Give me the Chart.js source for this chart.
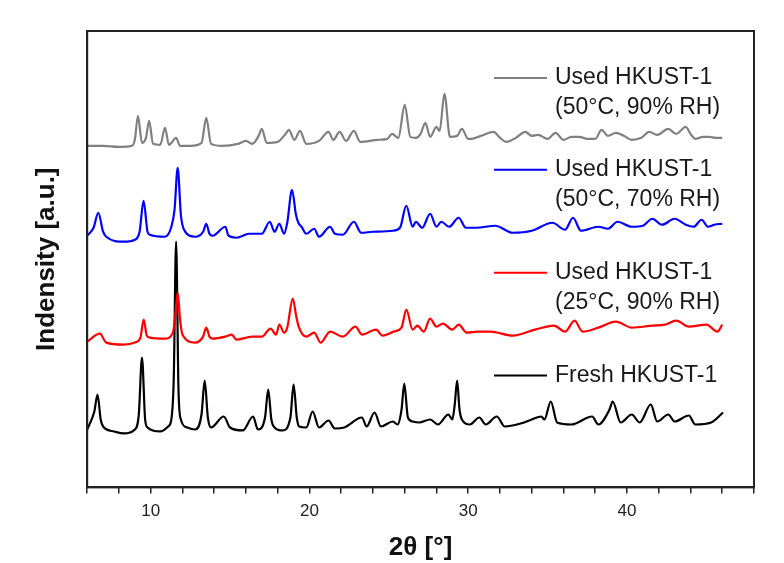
<!DOCTYPE html>
<html>
<head>
<meta charset="utf-8">
<script src="https://cdn.jsdelivr.net/npm/chart.js@4.4.0/dist/chart.umd.min.js"></script>
<style>
  body { margin: 0; background: #fff; }
  #wrap { width: 784px; height: 563px; }
</style>
</head>
<body>
<div id="wrap"><canvas id="xrd" width="784" height="563"></canvas></div>
<script>
// 2theta / intensity (patterns are stacked, a.u.)
const grayX = [6.0,7.0,8.0,8.8,9.0,9.2,9.45,9.7,9.9,10.15,10.6,10.9,11.15,11.6,11.85,12.5,13.2,13.5,13.8,14.5,15.5,16.0,16.4,16.8,17.0,17.3,18.0,18.5,18.7,19.05,19.4,19.8,20.6,21.2,21.5,21.9,22.3,22.8,23.2,24.3,24.9,25.2,25.6,26.0,26.35,26.7,27.0,27.3,27.6,28.0,28.2,28.5,28.85,29.3,29.6,30.0,30.2,30.8,31.6,32.0,32.4,33.0,33.6,34.0,34.4,35.0,35.5,36.0,36.5,37.0,37.5,38.0,38.4,38.8,39.3,39.8,40.3,40.9,41.4,41.9,42.6,43.1,43.7,44.0,44.3,44.8,45.2,45.6,46.0]
const grayY = [342,342,341,342,348,372,345,350,367,344,343,360,343,350,342,342,345,370,344,342,344,347,344,352,359,345,346,354,358,348,357,344,347,356,348,356,347,357,346,348,349,354,350,383,351,350,354,365,351,361,357,394,351,352,359,349,349,352,356,350,346,350,356,352,353,349,355,348,351,351,349,349,358,352,355,352,348,350,356,353,359,354,361,354,349,351,351,350,350]

const blueX = [6.0,6.4,6.7,7.0,7.2,8.3,9.0,9.3,9.55,9.8,9.94,10.9,11.3,11.5,11.7,11.9,12.1,12.8,13.3,13.5,13.7,13.9,14.7,14.9,15.4,16.2,17.0,17.5,17.8,18.1,18.4,18.6,18.9,19.15,19.3,19.5,19.8,20.3,20.6,21.3,21.6,22.1,22.8,23.25,24.0,25.25,25.7,26.1,26.5,26.7,27.1,27.6,28.0,28.3,28.8,29.4,29.85,30.5,31.7,32.8,34.0,35.3,36.1,36.6,37.1,38.2,38.8,39.4,40.3,41.0,41.6,42.2,43.0,43.7,44.2,44.7,45.1,45.5,46.0]
const blueY = [252,260,275,256,251,246,248,256,287,256,253,251,261,278,320,273,258,251,256,264,254,252,261,252,250,254,254,266,256,264,254,265,298,273,265,261,254,259,251,261,254,253,266,255,256,257,260,282,261,266,260,274,261,266,261,270,260,260,262,255,257,265,258,270,257,261,259,266,261,262,269,263,269,263,261,268,261,263,264]

const redX = [6.0,6.8,7.2,8.3,9.0,9.35,9.56,9.75,9.94,10.9,11.4,11.55,11.7,11.85,12.0,12.8,13.3,13.5,13.7,13.9,14.7,15.1,15.4,16.4,17.0,17.55,17.9,18.1,18.4,18.6,18.95,19.15,19.3,19.8,20.3,20.7,21.3,22.1,22.9,23.3,24.2,24.6,25.3,25.8,26.1,26.5,26.8,27.2,27.6,28.0,28.4,29.0,29.4,29.9,30.6,31.4,32.8,34.2,35.4,36.1,36.7,37.2,38.2,39.3,40.3,41.6,42.4,43.1,43.9,45.0,45.7,46.0]
const redY = [146,154,145,143,145,150,168,152,150,149,155,173,195,168,153,145,151,160,151,149,151,153,148,151,151,159,153,163,155,160,189,173,162,151,155,145,156,151,161,153,158,152,156,160,178,158,162,156,169,161,164,158,163,155,156,156,152,158,162,156,167,156,160,166,160,162,163,167,161,163,156,163]

const freshX = [6.0,6.45,6.65,6.85,7.0,7.7,8.3,9.0,9.25,9.45,9.65,9.8,10.6,11.1,11.3,11.45,11.6,11.75,11.9,12.3,12.8,13.2,13.4,13.6,13.8,14.6,15.0,15.8,16.45,16.75,17.2,17.4,17.6,17.8,18.3,18.8,19.0,19.2,19.35,19.8,20.2,20.6,21.2,21.6,22.2,23.3,23.6,24.1,24.5,25.25,25.55,25.8,25.97,26.2,26.5,26.9,27.6,28.1,28.75,29.0,29.15,29.3,29.45,29.6,30.1,30.7,31.1,31.8,32.3,33.3,34.0,34.6,34.8,35.2,35.6,36.5,37.8,38.2,38.9,39.1,39.6,40.3,40.8,41.5,41.9,42.6,43.0,43.9,44.3,45.3,46.05]
const freshY = [58,76,93,68,61,56,54,58,73,130,68,60,56,61,68,108,246,98,68,60,58,73,107,70,60,71,60,57,71,58,70,98,68,60,57,70,103,70,61,60,76,60,67,59,60,70,61,75,61,66,63,78,104,70,66,65,68,63,73,68,83,107,78,68,63,70,63,71,61,64,68,71,68,86,65,63,71,63,78,86,65,73,65,83,66,73,66,72,63,65,75]

const seriesNames = ['Used HKUST-1\n(50°C, 90% RH)', 'Used HKUST-1\n(50°C, 70% RH)', 'Used HKUST-1\n(25°C, 90% RH)', 'Fresh HKUST-1']
const seriesColors = ['#808080', '#0000ff', '#ff0000', '#000000']

const xTicksMajor = [10, 20, 30, 40]

const FONT = 'Liberation Sans, Arial, Helvetica, sans-serif'

function pts(xs, ys) {
  return xs.map((x, i) => ({ x: x, y: ys[i] }))
}

const allX = [grayX, blueX, redX, freshX]
const allY = [grayY, blueY, redY, freshY]

const datasets = seriesNames.map((name, i) => ({
  label: name,
  data: pts(allX[i], allY[i]),
  borderColor: seriesColors[i],
  borderWidth: 2.2,
  pointRadius: 0,
  cubicInterpolationMode: 'monotone',
  fill: false
}))

// box round the plot area
const framePlugin = {
  id: 'frame',
  afterDraw(chart) {
    const a = chart.chartArea, ctx = chart.ctx
    ctx.save()
    ctx.strokeStyle = '#222'
    ctx.lineWidth = 2
    ctx.strokeRect(a.left, a.top, a.right - a.left, a.bottom - a.top)
    ctx.restore()
  }
}

// legend entries sit next to each pattern; y given in axis units
const legendRows = [410, 318, 215, 112]
const legendPlugin = {
  id: 'sideLegend',
  afterDraw(chart) {
    const ctx = chart.ctx
    const y = chart.scales.y
    ctx.save()
    ctx.font = '23px ' + FONT
    ctx.textBaseline = 'middle'
    ctx.fillStyle = '#1a1a1a'
    seriesNames.forEach((name, i) => {
      const py = y.getPixelForValue(legendRows[i])
      ctx.strokeStyle = seriesColors[i]
      ctx.lineWidth = 2
      ctx.beginPath()
      ctx.moveTo(494, py)
      ctx.lineTo(547, py)
      ctx.stroke()
      name.split('\n').forEach((line, j) => {
        ctx.fillText(line, 555, py + j * 30)
      })
    })
    ctx.restore()
  }
}

new Chart(document.getElementById('xrd'), {
  type: 'line',
  data: { datasets: datasets },
  plugins: [framePlugin, legendPlugin],
  options: {
    responsive: false,
    animation: false,
    layout: { padding: { left: 0, right: 30, top: 31, bottom: 0 } },
    plugins: { legend: { display: false }, tooltip: { enabled: false } },
    scales: {
      x: {
        type: 'linear',
        min: 6,
        max: 48,
        ticks: {
          stepSize: 2,
          autoSkip: false,
          maxRotation: 0,
          padding: 8,
          color: '#222',
          font: { size: 17, family: FONT },
          callback: v => xTicksMajor.includes(v) ? String(v) : ''
        },
        grid: { drawOnChartArea: false, tickLength: 6, color: '#222', lineWidth: 1.5 },
        border: { color: '#222', width: 2 },
        title: {
          display: true,
          text: '2θ [°]',
          color: '#111',
          font: { size: 26, weight: 'bold', family: FONT },
          padding: { top: 2, bottom: 0 }
        }
      },
      y: {
        min: 0,
        max: 457,
        ticks: { display: false },
        grid: { display: false, drawTicks: false },
        border: { color: '#222', width: 2 },
        title: {
          display: true,
          text: 'Indensity [a.u.]',
          color: '#111',
          font: { size: 26, weight: 'bold', family: FONT },
          padding: { top: 31, bottom: 25 }
        }
      }
    }
  }
})
</script>
</body>
</html>
